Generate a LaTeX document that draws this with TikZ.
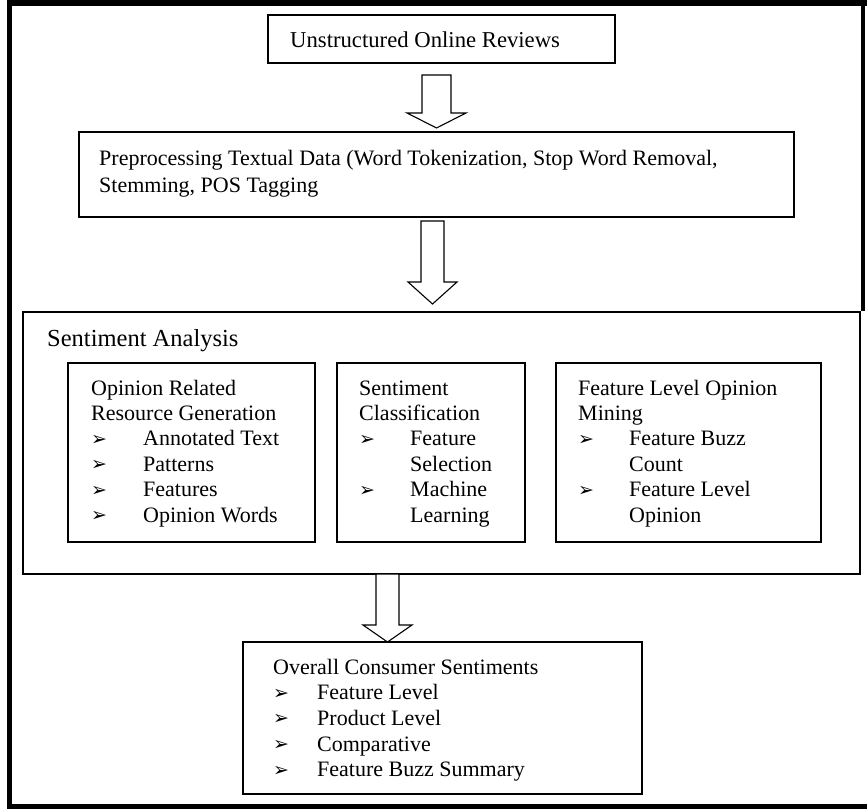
\documentclass[tikz,border=0pt]{standalone}
\usepackage{fontspec}
\setmainfont{Liberation Serif}
\newfontfamily\dejavu{DejaVu Sans}
\usetikzlibrary{calc}
\tikzset{
  box/.style={draw=black, line width=1.8pt, inner sep=0pt},
  txt/.style={inner sep=0pt, anchor=base west, font=\fontsize{22}{25}\selectfont},
  bigtxt/.style={inner sep=0pt, anchor=base west, font=\fontsize{24.5}{28}\selectfont},
  blockarrow/.style={draw=black, line width=1.1pt, fill=white, line join=miter},
  frameline/.style={draw=black, line width=5.5pt},
}
\newcommand{\bul}[2]{\makebox[#1][l]{\raisebox{0.5pt}{\dejavu\fontsize{19}{19}\selectfont ➢}}#2}
\newcommand{\barrow}[6]{%
  \draw[blockarrow] ({#1-#5},#2) -- ({#1+#5},#2) -- ({#1+#5},#3) -- ({#1+#6},#3)
    -- (#1,#4) -- ({#1-#6},#3) -- ({#1-#5},#3) -- cycle;}
\begin{document}
\begin{tikzpicture}[x=1pt,y=-1pt]
\useasboundingbox (0,0) rectangle (867,809);

% boxes
\node[box, minimum width=347pt, minimum height=48pt] (b1) at (441.5,39) {};
\node[box, minimum width=715pt, minimum height=85pt] (b2) at (436.5,174.5) {};
\node[box, minimum width=837pt, minimum height=262pt] (b3) at (441.5,443) {};
\node[box, minimum width=247pt, minimum height=179pt] (bA) at (191.5,452.5) {};
\node[box, minimum width=188pt, minimum height=179pt] (bB) at (431,452.5) {};
\node[box, minimum width=265pt, minimum height=179pt] (bC) at (688.5,452.5) {};
\node[box, minimum width=399pt, minimum height=152pt] (b4) at (442.5,718) {};

% outer frame (open at the lower right)
\coordinate (fTR) at (863,0);
\coordinate (fTL) at (9.5,3);
\coordinate (fBL) at (9.5,806.5);
\coordinate (fBR) at (867,806.5);
\draw[frameline] (fBR) -- (fBL) -- (fTL) -- (867,3);
\draw[draw=black, line width=4pt] (fTR) -- (fTR |- b3.north);

% block arrows
\barrow{436.5}{75}{113}{128}{14.5}{29.5}
\barrow{432.5}{221}{282}{304}{11.5}{24.5}
\barrow{387.5}{574}{625}{642}{11.5}{24.5}

% texts
\node[txt, font=\fontsize{22.7}{26}\selectfont] (t1) at (290,47) {Unstructured Online Reviews};
\node[txt] (t2a) at (99,165) {Preprocessing Textual Data (Word Tokenization, Stop Word Removal,};
\node[txt] (t2b) at (99,192) {Stemming, POS Tagging};
\node[bigtxt] (t3) at (47,346) {Sentiment Analysis};

\node[txt] (a1) at (91,395) {Opinion Related};
\node[txt] (a2) at (91,420.4) {Resource Generation};
\node[txt] (a3) at (91,445.8) {\bul{52pt}{Annotated Text}};
\node[txt] (a4) at (91,471.2) {\bul{52pt}{Patterns}};
\node[txt] (a5) at (91,496.6) {\bul{52pt}{Features}};
\node[txt] (a6) at (91,522) {\bul{52pt}{Opinion Words}};

\node[txt] (c1) at (359,395) {Sentiment};
\node[txt] (c2) at (359,420.4) {Classification};
\node[txt] (c3) at (359,445.8) {\bul{51pt}{Feature}};
\node[txt] (c4) at (410,471.2) {Selection};
\node[txt] (c5) at (359,496.6) {\bul{51pt}{Machine}};
\node[txt] (c6) at (410,522) {Learning};

\node[txt] (d1) at (578,395) {Feature Level Opinion};
\node[txt] (d2) at (578,420.4) {Mining};
\node[txt] (d3) at (578,445.8) {\bul{51pt}{Feature Buzz}};
\node[txt] (d4) at (629,471.2) {Count};
\node[txt] (d5) at (578,496.6) {\bul{51pt}{Feature Level}};
\node[txt] (d6) at (629,522) {Opinion};

\node[txt] (e1) at (273,674) {Overall Consumer Sentiments};
\node[txt] (e2) at (273,699.7) {\bul{44pt}{Feature Level}};
\node[txt] (e3) at (273,725.4) {\bul{44pt}{Product Level}};
\node[txt] (e4) at (273,751.1) {\bul{44pt}{Comparative}};
\node[txt] (e5) at (273,776.8) {\bul{44pt}{Feature Buzz Summary}};
\end{tikzpicture}
\end{document}
